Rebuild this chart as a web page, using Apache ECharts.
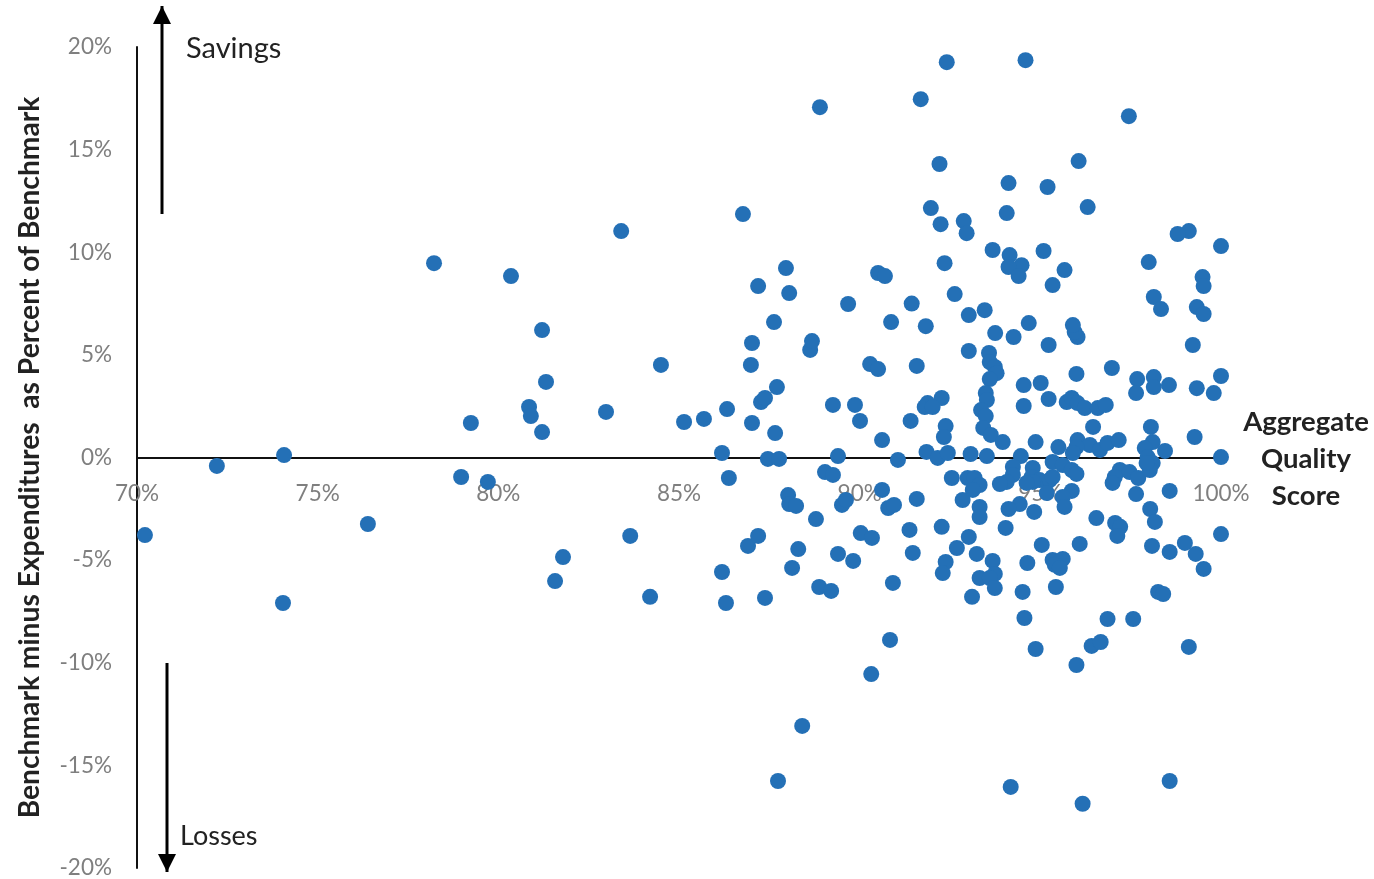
<!DOCTYPE html>
<html><head><meta charset="utf-8">
<style>html,body{margin:0;padding:0;background:#fff}#c{width:1374px;height:879px}</style>
<script src="https://cdn.jsdelivr.net/npm/echarts@6/dist/echarts.min.js"></script>
</head><body><div id="c"></div>
<script>
const xTickStep = 5, yTickStep = 5;
const lowScores = [70.22,72.21,74.07,74.04,76.39,78.22,78.97,79.24,79.71,80.35,80.85,80.9,81.21,81.21,81.32,81.57,81.79,82.98,83.4,83.65,84.2,84.5,85.14,85.69,86.19,86.33,86.38,86.19,86.3,86.77,86.91,86.99,87.02,87.02,87.19,87.19,87.27,87.38,87.38,87.46,87.63,87.66,87.71,87.77,87.74,87.96,88.05,88.02,88.05,88.24,88.13,88.3,88.41,88.63,88.68,88.79,88.9,88.88,89.04,89.21,89.26,89.26,89.4,89.4,89.51,89.62,89.68,89.82,89.87,90.01,90.03,90.29,90.34,90.32,90.51,90.51,90.7,90.62,90.62,90.79,90.95,90.87,90.84,90.92,91.06];
const lowMargins = [-3.78,-0.41,0.12,-7.09,-3.24,9.47,-0.95,1.68,-1.19,8.84,2.46,2.02,1.24,6.21,3.68,-6.02,-4.85,2.22,11.03,-3.82,-6.79,4.51,1.73,1.88,0.22,2.36,-1.0,-5.58,-7.09,11.86,-4.31,4.51,5.58,1.68,8.35,-3.82,2.7,2.9,-6.84,-0.07,6.6,1.19,3.43,-0.07,-15.76,9.23,8.01,-1.83,-2.27,-2.36,-5.38,-4.46,-13.08,5.24,5.67,-3.0,17.07,-6.31,-0.71,-6.5,-0.85,2.56,0.07,-4.7,-2.31,-2.07,7.48,-5.04,2.56,1.78,-3.68,4.55,-3.92,-10.55,4.31,8.99,8.84,0.85,-1.58,-2.46,-2.31,6.6,-8.89,-6.11,-0.12];
const upperScores = [92.41,94.59,91.69,97.45,92.21,96.06,94.12,95.2,96.31,91.97,92.24,92.88,92.96,94.07,99.11,98.8,100,93.68,94.15,95.09,94.48,94.12,94.4,95.67,95.34,92.35,98.0,99.49,99.52,98.14,98.34,99.33,99.52,92.63,93.46,91.44,93.02,91.83,94.68,93.75,94.26,96.03,95.95,95.9,95.23,99.22,93.02,93.58,93.6,93.74,93.79,93.6,91.58,96.0,96.98,97.68,98.14,98.14,98.56,97.65,100,99.33,99.8,94.54,95.01,95.23,94.54,93.49,93.52,93.36,93.49,93.42,93.63,93.96,92.27,91.88,91.8,92.02,91.41,92.38,92.33,95.73,95.87,96.03,96.23,96.59,96.81,96.46,98.06,99.27,94.87,96.03,95.5,96.37,96.0,95.9,96.65,96.86,97.17,98.11,97.89,98.45,100,97.97,91.85,92.16,92.44,93.07,93.52,94.46];
const upperMargins = [19.26,19.36,17.46,16.63,14.3,14.44,13.37,13.18,12.2,12.15,11.37,11.52,10.93,11.91,11.03,10.89,10.3,10.11,9.86,10.06,9.37,9.28,8.84,9.13,8.4,9.47,9.52,8.79,8.35,7.82,7.23,7.33,6.99,7.96,7.18,7.5,6.94,6.4,6.55,6.06,5.87,5.87,6.11,6.45,5.48,5.48,5.19,5.09,4.65,4.41,4.11,3.82,4.46,4.07,4.36,3.82,3.92,3.43,3.53,3.14,3.97,3.38,3.14,3.53,3.63,2.85,2.51,3.14,2.8,2.31,2.02,1.44,1.1,0.75,2.9,2.65,2.46,2.46,1.78,1.53,1.0,2.7,2.9,2.65,2.41,2.41,2.56,1.49,1.49,1.0,0.75,0.85,0.51,0.61,0.51,0.22,0.37,0.71,0.85,0.75,0.46,0.32,0.02,0.02,0.27,-0.02,0.22,0.17,0.07,0.07];
const lowerScores = [95.34,94.79,94.24,95.62,95.87,96.0,97.2,97.47,97.06,97.0,97.71,98.11,98.03,97.94,92.55,92.99,93.18,93.32,93.13,92.85,94.24,94.07,93.88,94.76,94.98,95.26,94.79,94.62,95.34,95.18,95.87,95.62,98.58,97.65,91.58,93.32,93.32,94.43,94.12,94.83,95.67,98.04,98.17,96.55,97.07,97.21,97.13,91.38,92.27,94.04,100,93.02,92.69,91.47,93.24,95.04,96.09,98.09,98.58,99.0,99.3,99.52,95.34,95.62,95.4,95.54,94.64,92.38,92.3,93.68,93.74,93.32,93.6,93.74,93.11,94.51,95.43,98.26,98.4,94.56,96.86,97.57,94.87,96.42,96.67,96.0,99.11,96.17,94.18,98.58];
const lowerMargins = [-0.22,-0.51,-0.46,-0.37,-0.61,-0.8,-0.61,-0.71,-0.95,-1.24,-1.0,-0.27,-0.61,-0.27,-1.0,-1.0,-1.0,-1.34,-1.58,-2.07,-0.85,-1.19,-1.29,-0.95,-1.1,-1.1,-1.19,-1.24,-0.95,-1.73,-1.63,-1.92,-1.63,-1.78,-2.02,-2.41,-2.9,-2.27,-2.51,-2.65,-2.41,-2.51,-3.14,-2.95,-3.19,-3.38,-3.82,-3.53,-3.38,-3.43,-3.73,-3.87,-4.41,-4.65,-4.7,-4.26,-4.21,-4.31,-4.6,-4.16,-4.7,-5.43,-4.99,-4.94,-5.23,-5.38,-5.14,-5.09,-5.63,-5.04,-5.67,-5.87,-5.87,-6.36,-6.79,-6.55,-6.31,-6.55,-6.65,-7.82,-7.87,-7.87,-9.33,-9.18,-8.99,-10.11,-9.23,-16.87,-16.05,-15.76];
const yAxisTitle = 'Benchmark minus Expenditures  as Percent of Benchmark';
const upLabel = 'Savings', downLabel = 'Losses';
const xAxisTitleLines = ['Aggregate', 'Quality', 'Score'];

const scores = lowScores.concat(upperScores, lowerScores);
const margins = lowMargins.concat(upperMargins, lowerMargins);
const points = scores.map((s, i) => [s, margins[i]]);
const font = 'Lato';
const ink = '#222';
const arrow = (x, y1, y2, dir) => [
  {type:'line',shape:{x1:x,y1:y1,x2:x,y2:y2},style:{stroke:'#000',lineWidth:3}},
  {type:'polygon',shape:{points:[[x,y2],[x-9,y2+dir*18],[x+9,y2+dir*18]]},style:{fill:'#000'}}
];
const chart = echarts.init(document.getElementById('c'), null, {renderer:'canvas'});
chart.setOption({
  animation:false,
  backgroundColor:'#fff',
  grid:{left:137,right:153,top:47,bottom:11,outerBoundsMode:'none'},
  xAxis:{type:'value',min:70,max:100,interval:xTickStep,
    axisLine:{show:true,onZero:false,lineStyle:{color:'#111',width:2}},
    offset:-410.5,
    axisTick:{show:false},splitLine:{show:false},
    axisLabel:{formatter:'{value}%',color:'#7f7f7f',fontFamily:font,fontSize:22.5,margin:25,showMinLabel:true,showMaxLabel:true}},
  yAxis:{type:'value',min:-20,max:20,interval:yTickStep,
    name:yAxisTitle,nameLocation:'middle',nameGap:93,
    nameTextStyle:{fontFamily:font,fontSize:28.2,fontWeight:'bold',color:ink},
    axisLine:{show:true,onZero:false,lineStyle:{color:'#111',width:2}},
    axisTick:{show:false},splitLine:{show:false},
    axisLabel:{formatter:'{value}%',color:'#7f7f7f',fontFamily:font,fontSize:22.5,margin:25,showMinLabel:true,showMaxLabel:true}},
  series:[{type:'scatter',data:points,symbol:'circle',symbolSize:16,silent:true,
    itemStyle:{color:'#2470b6',opacity:1}}],
  graphic:[].concat(
    arrow(162,214,6,1), arrow(167,663,872,-1),
    [
      {type:'text',x:186,y:49,style:{text:upLabel,font:'29px '+font,fill:ink,textVerticalAlign:'middle'}},
      {type:'text',x:180,y:836,style:{text:downLabel,font:'27px '+font,fill:ink,textVerticalAlign:'middle'}},
    ],
    xAxisTitleLines.map((t,i)=>({type:'text',x:1306,y:422+i*37,style:{text:t,font:'bold 27.5px '+font,fill:ink,textAlign:'center',textVerticalAlign:'middle'}}))
  )
});
</script></body></html>
